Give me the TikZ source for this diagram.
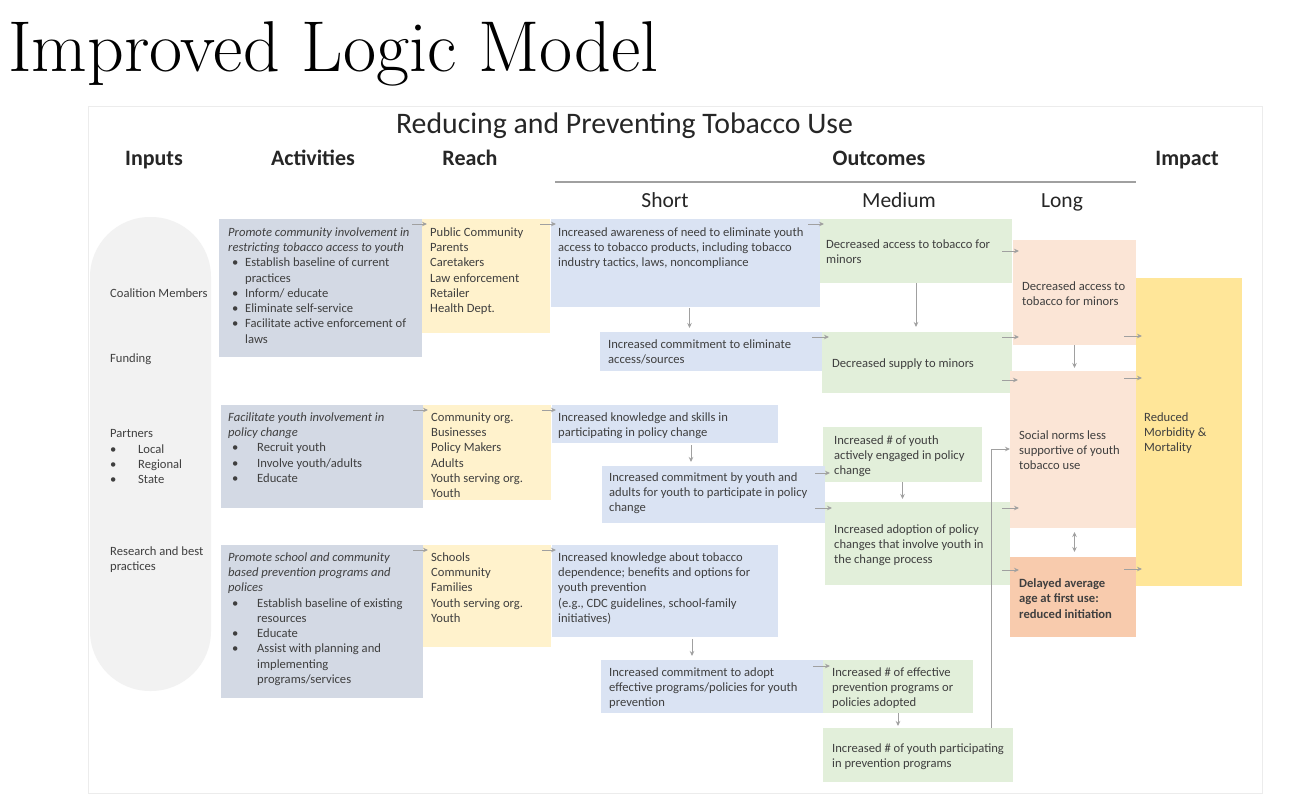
\documentclass[tikz,border=0pt]{standalone}
\usepackage{fontspec}
\newfontfamily\calfont{Carlito}
\usetikzlibrary{arrows.meta,calc}
\definecolor{act}{HTML}{D3D9E4}
\definecolor{rch}{HTML}{FFF2CC}
\definecolor{sht}{HTML}{DAE3F3}
\definecolor{med}{HTML}{E2EFDA}
\definecolor{lng}{HTML}{FBE5D6}
\definecolor{dly}{HTML}{F8CBAD}
\definecolor{impc}{HTML}{FFE699}
\definecolor{inpc}{HTML}{F2F2F2}
\definecolor{tc}{HTML}{3F3F3F}
\definecolor{hc}{HTML}{262626}
\definecolor{arrc}{HTML}{A0A0A0}
\definecolor{panel}{HTML}{ECECEC}
\newcommand\bx[6]{\node[boxst,fill=#6,minimum width={(#4-#2)*1pt},minimum height={(#5-#3)*1pt}] (#1) at (#2,#3) {};}
\newcommand\tx[4]{\node[txt] (#1) at (#2,{#3-4.5}) {#4};}
\newcommand\bA{\hspace*{4pt}\makebox[13pt][l]{•}}
\newcommand\bB{\hspace*{4pt}\makebox[25pt][l]{•}}
\begin{document}
\begin{tikzpicture}[x=1pt,y=-1pt,
  boxst/.style={anchor=north west,inner sep=0pt,outer sep=0pt,draw=none},
  txt/.style={anchor=north west,inner sep=0pt,align=left,text=tc,font=\calfont\fontsize{12.6}{15.25}\selectfont},
  head/.style={anchor=base,inner sep=0pt,text=hc,font=\calfont\bfseries\fontsize{22}{26}\selectfont},
  sub/.style={anchor=base,inner sep=0pt,text=hc,font=\calfont\fontsize{21.5}{26}\selectfont},
  arr/.style={draw=arrc,line width=1pt,-{Stealth[length=5pt,width=4.5pt]}},
  darr/.style={draw=arrc,line width=1pt,{Stealth[length=5pt,width=4.5pt]}-{Stealth[length=5pt,width=4.5pt]}}]
\useasboundingbox (0,0) rectangle (1294,800);
\fill[white] (0,0) rectangle (1294,800);
% title
\node[anchor=base west,inner sep=0pt,font=\fontsize{72}{76}\selectfont] (title) at (8,71) {Improved Logic Model};
% panel
\node[boxst,draw=panel,line width=0.8pt,fill=white,minimum width=1174pt,minimum height=687pt] (panel) at (88,106) {};
\node[anchor=base,inner sep=0pt,text=hc,font=\calfont\fontsize{29.8}{34}\selectfont] (subtitle) at (624.5,133) {Reducing and Preventing Tobacco Use};
\node[head] (hin) at (154,165) {Inputs};
\node[head] (hact) at (313,165) {Activities};
\node[head] (hrch) at (470,165) {Reach};
\node[head] (hout) at (879,165) {Outcomes};
\node[head] (himp) at (1187,165) {Impact};
\draw[arrc,line width=1.1pt] (555,182) -- (1136,182);
\node[sub] (hs) at (665,207) {Short};
\node[sub] (hm) at (899,207) {Medium};
\node[sub] (hl) at (1062,207) {Long};
% inputs
\node[boxst,fill=inpc,rounded corners=60pt,minimum width=121pt,minimum height=474pt] (inp) at (90,217) {};
\tx{in1}{110}{293}{Coalition Members}
\tx{in2}{110}{358}{Funding}
\tx{in3}{110}{434}{Partners\\\makebox[28pt][l]{•}Local\\\makebox[28pt][l]{•}Regional\\\makebox[28pt][l]{•}State}
\tx{in4}{110}{551}{Research and best\\practices}
% boxes
\bx{a1}{219}{219}{422}{357}{act}
\bx{r1}{422}{219}{550}{333}{rch}
\bx{s1}{551}{219}{820}{307}{sht}
\bx{m1}{820}{219}{1012}{283}{med}
\bx{s2}{600}{332}{822}{371}{sht}
\bx{m2}{822}{332}{1012}{393}{med}
\bx{a2}{221}{405}{423}{508}{act}
\bx{r2}{423}{405}{551}{500}{rch}
\bx{s3}{552}{405}{778}{443}{sht}
\bx{m3}{823}{427}{982}{482}{med}
\bx{s4}{602}{466}{825}{523}{sht}
\bx{m4}{825}{502}{1010}{585}{med}
\bx{a3}{221}{545}{423}{698}{act}
\bx{r3}{423}{545}{551}{647}{rch}
\bx{s5}{552}{545}{778}{637}{sht}
\bx{s6}{601}{660}{823}{713}{sht}
\bx{m5}{823}{660}{973}{713}{med}
\bx{m6}{823}{728}{1013}{782}{med}
% texts of left and middle columns
\tx{a1t}{228}{232}{\itshape Promote community involvement in\\\itshape restricting tobacco access to youth\\\bA Establish baseline of current\\\hspace*{17pt}practices\\\bA Inform/ educate\\\bA Eliminate self-service\\\bA Facilitate active enforcement of\\\hspace*{17pt}laws}
\tx{r1t}{430}{232}{Public Community\\Parents\\Caretakers\\Law enforcement\\Retailer\\Health Dept.}
\tx{s1t}{558}{232}{Increased awareness of need to eliminate youth\\access to tobacco products, including tobacco\\industry tactics, laws, noncompliance}
\tx{m1t}{826}{244}{Decreased access to tobacco for\\minors}
\tx{s2t}{608}{344}{Increased commitment to eliminate\\access/sources}
\tx{m2t}{832}{363}{Decreased supply to minors}
\tx{a2t}{228}{417}{\itshape Facilitate youth involvement in\\\itshape policy change\\\bB Recruit youth\\\bB Involve youth/adults\\\bB Educate}
\tx{r2t}{431}{417}{Community org.\\Businesses\\Policy Makers\\Adults\\Youth serving org.\\Youth}
\tx{s3t}{558}{417}{Increased knowledge and skills in\\participating in policy change}
\tx{m3t}{834}{440}{Increased \# of youth\\actively engaged in policy\\change}
\tx{s4t}{609}{477}{Increased commitment by youth and\\adults for youth to participate in policy\\change}
\tx{m4t}{834}{529}{Increased adoption of policy\\changes that involve youth in\\the change process}
\tx{a3t}{228}{557}{\itshape Promote school and community\\\itshape based prevention programs and\\\itshape polices\\\bB Establish baseline of existing\\\hspace*{29pt}resources\\\bB Educate\\\bB Assist with planning and\\\hspace*{29pt}implementing\\\hspace*{29pt}programs/services}
\tx{r3t}{431}{557}{Schools\\Community\\Families\\Youth serving org.\\Youth}
\tx{s5t}{558}{557}{Increased knowledge about tobacco\\dependence; benefits and options for\\youth prevention\\(e.g., CDC guidelines, school-family\\initiatives)}
\tx{s6t}{609}{672}{Increased commitment to adopt\\effective programs/policies for youth\\prevention}
\tx{m5t}{832}{672}{Increased \# of effective\\prevention programs or\\policies adopted}
\tx{m6t}{832}{748}{Increased \# of youth participating\\in prevention programs}
% long and impact
\bx{l1}{1013}{240}{1136}{345}{lng}
\bx{l2}{1010}{371}{1136}{528}{lng}
\bx{l3}{1010}{557}{1136}{637}{dly}
\bx{imp}{1136}{278}{1242}{586}{impc}
\tx{l1t}{1022}{286}{Decreased access to\\tobacco for minors}
\tx{l2t}{1019}{435}{Social norms less\\supportive of youth\\tobacco use}
\tx{l3t}{1019}{583}{\bfseries Delayed average\\\bfseries age at first use:\\\bfseries reduced initiation}
\tx{impt}{1144}{417}{Reduced\\Morbidity \&\\Mortality}
% arrows
\draw[arr] ($(a1.north east)+(-10,5)$) -- ($(r1.north west)+(5,5)$);
\draw[arr] ($(r1.north east)+(-10,5)$) -- ($(s1.north west)+(5,5)$);
\draw[arr] ($(s1.north east)+(-12,5)$) -- ($(m1.north west)+(4,5)$);
\draw[arr] ($(m1.east)+(-10,0)$) -- ($(m1.east -| l1.west)+(6,0)$);
\draw[arr] ($(s1.south)+(4,1)$) -- ($(s1.south |- s2.north)+(4,-4)$);
\draw[arr] (m1.south) -- ($(m2.north -| m1.south)+(0,-5)$);
\draw[arr] ($(s2.north east)+(-10,5)$) -- ($(m2.north west)+(7,5)$);
\draw[arr] ($(m2.north east)+(-10,5)$) -- ($(m2.north east -| l1.west)+(6,5)$);
\draw[arr] ($(m2.north east)+(-10,48)$) -- ($(l2.north west)+(8,9)$);
\draw[arr] (l1.south) -- ($(l2.north -| l1.south)+(0,-3)$);
\draw[arr] ($(l1.south east)+(-12,-9)$) -- ($(imp.west |- l1.south)+(6,-9)$);
\draw[arr] ($(l2.north east)+(-12,7)$) -- ($(imp.west |- l2.north)+(6,7)$);
\draw[arr] ($(l3.north east)+(-12,12)$) -- ($(imp.west |- l3.north)+(6,12)$);
\draw[darr] ($(l2.south -| l1.south)+(0,4)$) -- ($(l3.north -| l1.south)+(0,-5)$);
\draw[arr] ($(a2.north east)+(-10,5)$) -- ($(r2.north west)+(5,5)$);
\draw[arr] ($(r2.north east)+(-9,5)$) -- ($(s3.north west)+(4,5)$);
\draw[arr] ($(s3.south)+(26,2)$) -- ($(s4.north -| s3.south)+(26,-4)$);
\draw[arr] ($(s4.north east)+(-10,7)$) -- ($(m3.west |- s4.north)+(7,7)$);
\draw[arr] ($(s4.north east)+(-10,42)$) -- ($(m4.west |- s4.north)+(7,42)$);
\draw[arr] (m3.south) -- ($(m4.north -| m3.south)+(0,-3)$);
\draw[arr] ($(m4.north east)+(-8,6)$) -- ($(l2.west |- m4.north)+(9,6)$);
\draw[arr] ($(m4.north east)+(-8,68)$) -- ($(l3.west |- m4.north)+(9,68)$);
\draw[arr] ($(a3.north east)+(-10,5)$) -- ($(r3.north west)+(5,5)$);
\draw[arr] ($(r3.north east)+(-9,5)$) -- ($(s5.north west)+(4,5)$);
\draw[arr] ($(s5.south)+(27,2)$) -- ($(s6.north -| s5.south)+(27,-4)$);
\draw[arr] ($(s6.north east)+(-10,6)$) -- ($(m5.north west)+(7,6)$);
\draw[arr] (m5.south) -- ($(m6.north -| m5.south)+(0,-2)$);
\draw[arr] ($(m6.north east)+(-22,0)$) |- ($(l2.north west)+(0,78)$);
\end{tikzpicture}
\end{document}
